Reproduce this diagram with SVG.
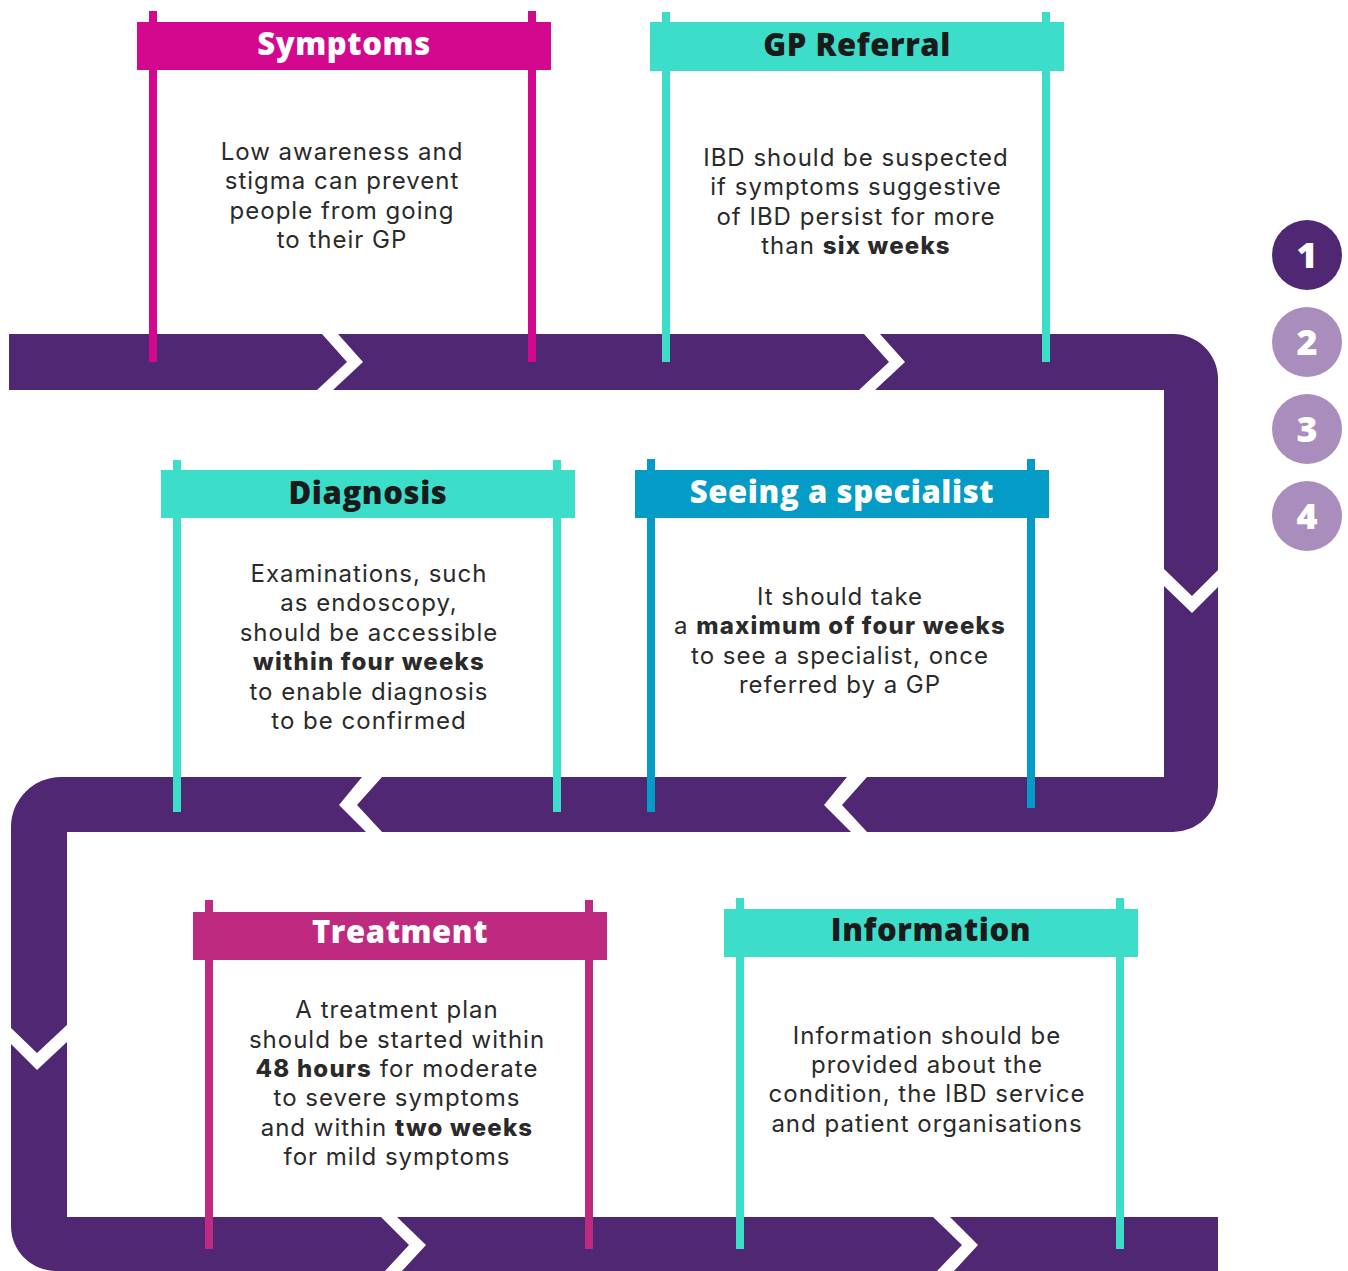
<svg xmlns="http://www.w3.org/2000/svg" width="1348" height="1271" viewBox="0 0 1348 1271">
<style>
.band{fill:#4F2772}
.cut{fill:#FFFFFF}
.hdr{font-family:"Open Sans","Liberation Sans",sans-serif;font-weight:800;font-size:31px;text-anchor:middle;letter-spacing:0.6px}
.body{font-family:Inter,"Open Sans","Liberation Sans",sans-serif;font-weight:400;font-size:24px;text-anchor:middle;fill:#2a2a2a;letter-spacing:1px}
.b{font-weight:800;letter-spacing:1.2px}
.num{font-family:"Open Sans","Liberation Sans",sans-serif;font-weight:800;font-size:36px;fill:#FFFFFF;text-anchor:middle}
.mag{fill:#D4088F}
.teal{fill:#3CDDC9}
.blue{fill:#049BC6}
.pink{fill:#BE2A80}
</style>
<rect width="1348" height="1271" fill="#FFFFFF"/>
<g id="connectors">
<path class="band" d="M9,334 H1173 A45,45 0 0 1 1218,379 V787 A45,45 0 0 1 1173,832 H67 V1217 H1218 V1271 H56 A45,45 0 0 1 11,1226 V827 A50,50 0 0 1 61,777 H1164 V390 H9 Z"/>
<polygon class="cut" points="322,334 338,334 363,362 333,390 317,390 347,362"/>
<polygon class="cut" points="864,334 880,334 905,362 875,390 859,390 889,362"/>
<polygon class="cut" points="1164,569 1192,596 1219,569 1219,586 1192,613 1164,586"/>
<polygon class="cut" points="847,777 867,777 842,805 868,833 852,833 824,805"/>
<polygon class="cut" points="362,777 382,777 357,805 383,833 367,833 339,805"/>
<polygon class="cut" points="10,1027 37,1053 68,1024 68,1041 37,1070 10,1043"/>
<polygon class="cut" points="381,1217 397,1217 426,1245 402,1271 385,1271 409,1245"/>
<polygon class="cut" points="933,1217 950,1217 978,1245 954,1271 937,1271 962,1245"/>
</g>
<g id="symptoms">
<rect class="mag" x="137" y="22" width="414" height="48"/>
<rect class="mag" x="149" y="11" width="8" height="351"/>
<rect class="mag" x="528" y="11" width="8" height="351"/>
<text class="hdr" x="344" y="55" fill="#FFFFFF">Symptoms</text>
<text class="body"><tspan x="342" y="160">Low awareness and</tspan><tspan x="342" y="189">stigma can prevent</tspan><tspan x="342" y="219">people from going</tspan><tspan x="342" y="248">to their GP</tspan></text>
</g>
<g id="gp-referral">
<rect class="teal" x="650" y="22" width="414" height="49"/>
<rect class="teal" x="662" y="12" width="8" height="350"/>
<rect class="teal" x="1042" y="12" width="8" height="350"/>
<text class="hdr" x="857" y="56" fill="#1a1a1a">GP Referral</text>
<text class="body"><tspan x="856" y="166">IBD should be suspected</tspan><tspan x="856" y="195">if symptoms suggestive</tspan><tspan x="856" y="225">of IBD persist for more</tspan><tspan x="856" y="254">than <tspan class="b">six weeks</tspan></tspan></text>
</g>
<g id="diagnosis">
<rect class="teal" x="161" y="470" width="414" height="48"/>
<rect class="teal" x="173" y="460" width="8" height="352"/>
<rect class="teal" x="553" y="460" width="8" height="352"/>
<text class="hdr" x="368" y="504" fill="#1a1a1a">Diagnosis</text>
<text class="body"><tspan x="369" y="582">Examinations, such</tspan><tspan x="369" y="611">as endoscopy,</tspan><tspan x="369" y="641">should be accessible</tspan><tspan x="369" y="670" class="b">within four weeks</tspan><tspan x="369" y="700">to enable diagnosis</tspan><tspan x="369" y="729">to be confirmed</tspan></text>
</g>
<g id="seeing-a-specialist">
<rect class="blue" x="635" y="470" width="414" height="48"/>
<rect class="blue" x="647" y="459" width="8" height="353"/>
<rect class="blue" x="1027" y="459" width="8" height="349"/>
<text class="hdr" x="842" y="503" fill="#FFFFFF">Seeing a specialist</text>
<text class="body"><tspan x="840" y="605">It should take</tspan><tspan x="840" y="634">a <tspan class="b">maximum of four weeks</tspan></tspan><tspan x="840" y="664">to see a specialist, once</tspan><tspan x="840" y="693">referred by a GP</tspan></text>
</g>
<g id="treatment">
<rect class="pink" x="193" y="912" width="414" height="48"/>
<rect class="pink" x="205" y="900" width="8" height="349"/>
<rect class="pink" x="585" y="900" width="8" height="349"/>
<text class="hdr" x="400" y="943" fill="#FFFFFF">Treatment</text>
<text class="body"><tspan x="397" y="1018">A treatment plan</tspan><tspan x="397" y="1048">should be started within</tspan><tspan x="397" y="1077"><tspan class="b">48 hours</tspan> for moderate</tspan><tspan x="397" y="1106">to severe symptoms</tspan><tspan x="397" y="1136">and within <tspan class="b">two weeks</tspan></tspan><tspan x="397" y="1165">for mild symptoms</tspan></text>
</g>
<g id="information">
<rect class="teal" x="724" y="909" width="414" height="48"/>
<rect class="teal" x="736" y="898" width="8" height="351"/>
<rect class="teal" x="1116" y="898" width="8" height="351"/>
<text class="hdr" x="931" y="941" fill="#1a1a1a">Information</text>
<text class="body"><tspan x="927" y="1044">Information should be</tspan><tspan x="927" y="1073">provided about the</tspan><tspan x="927" y="1102">condition, the IBD service</tspan><tspan x="927" y="1132">and patient organisations</tspan></text>
</g>
<g id="step-1"><circle cx="1307" cy="255" r="35" fill="#4F2772"/><text class="num" x="1307" y="268">1</text></g>
<g id="step-2"><circle cx="1307" cy="342" r="35" fill="#A98DBD"/><text class="num" x="1307" y="355">2</text></g>
<g id="step-3"><circle cx="1307" cy="429" r="35" fill="#A98DBD"/><text class="num" x="1307" y="442">3</text></g>
<g id="step-4"><circle cx="1307" cy="516" r="35" fill="#A98DBD"/><text class="num" x="1307" y="529">4</text></g>
</svg>
